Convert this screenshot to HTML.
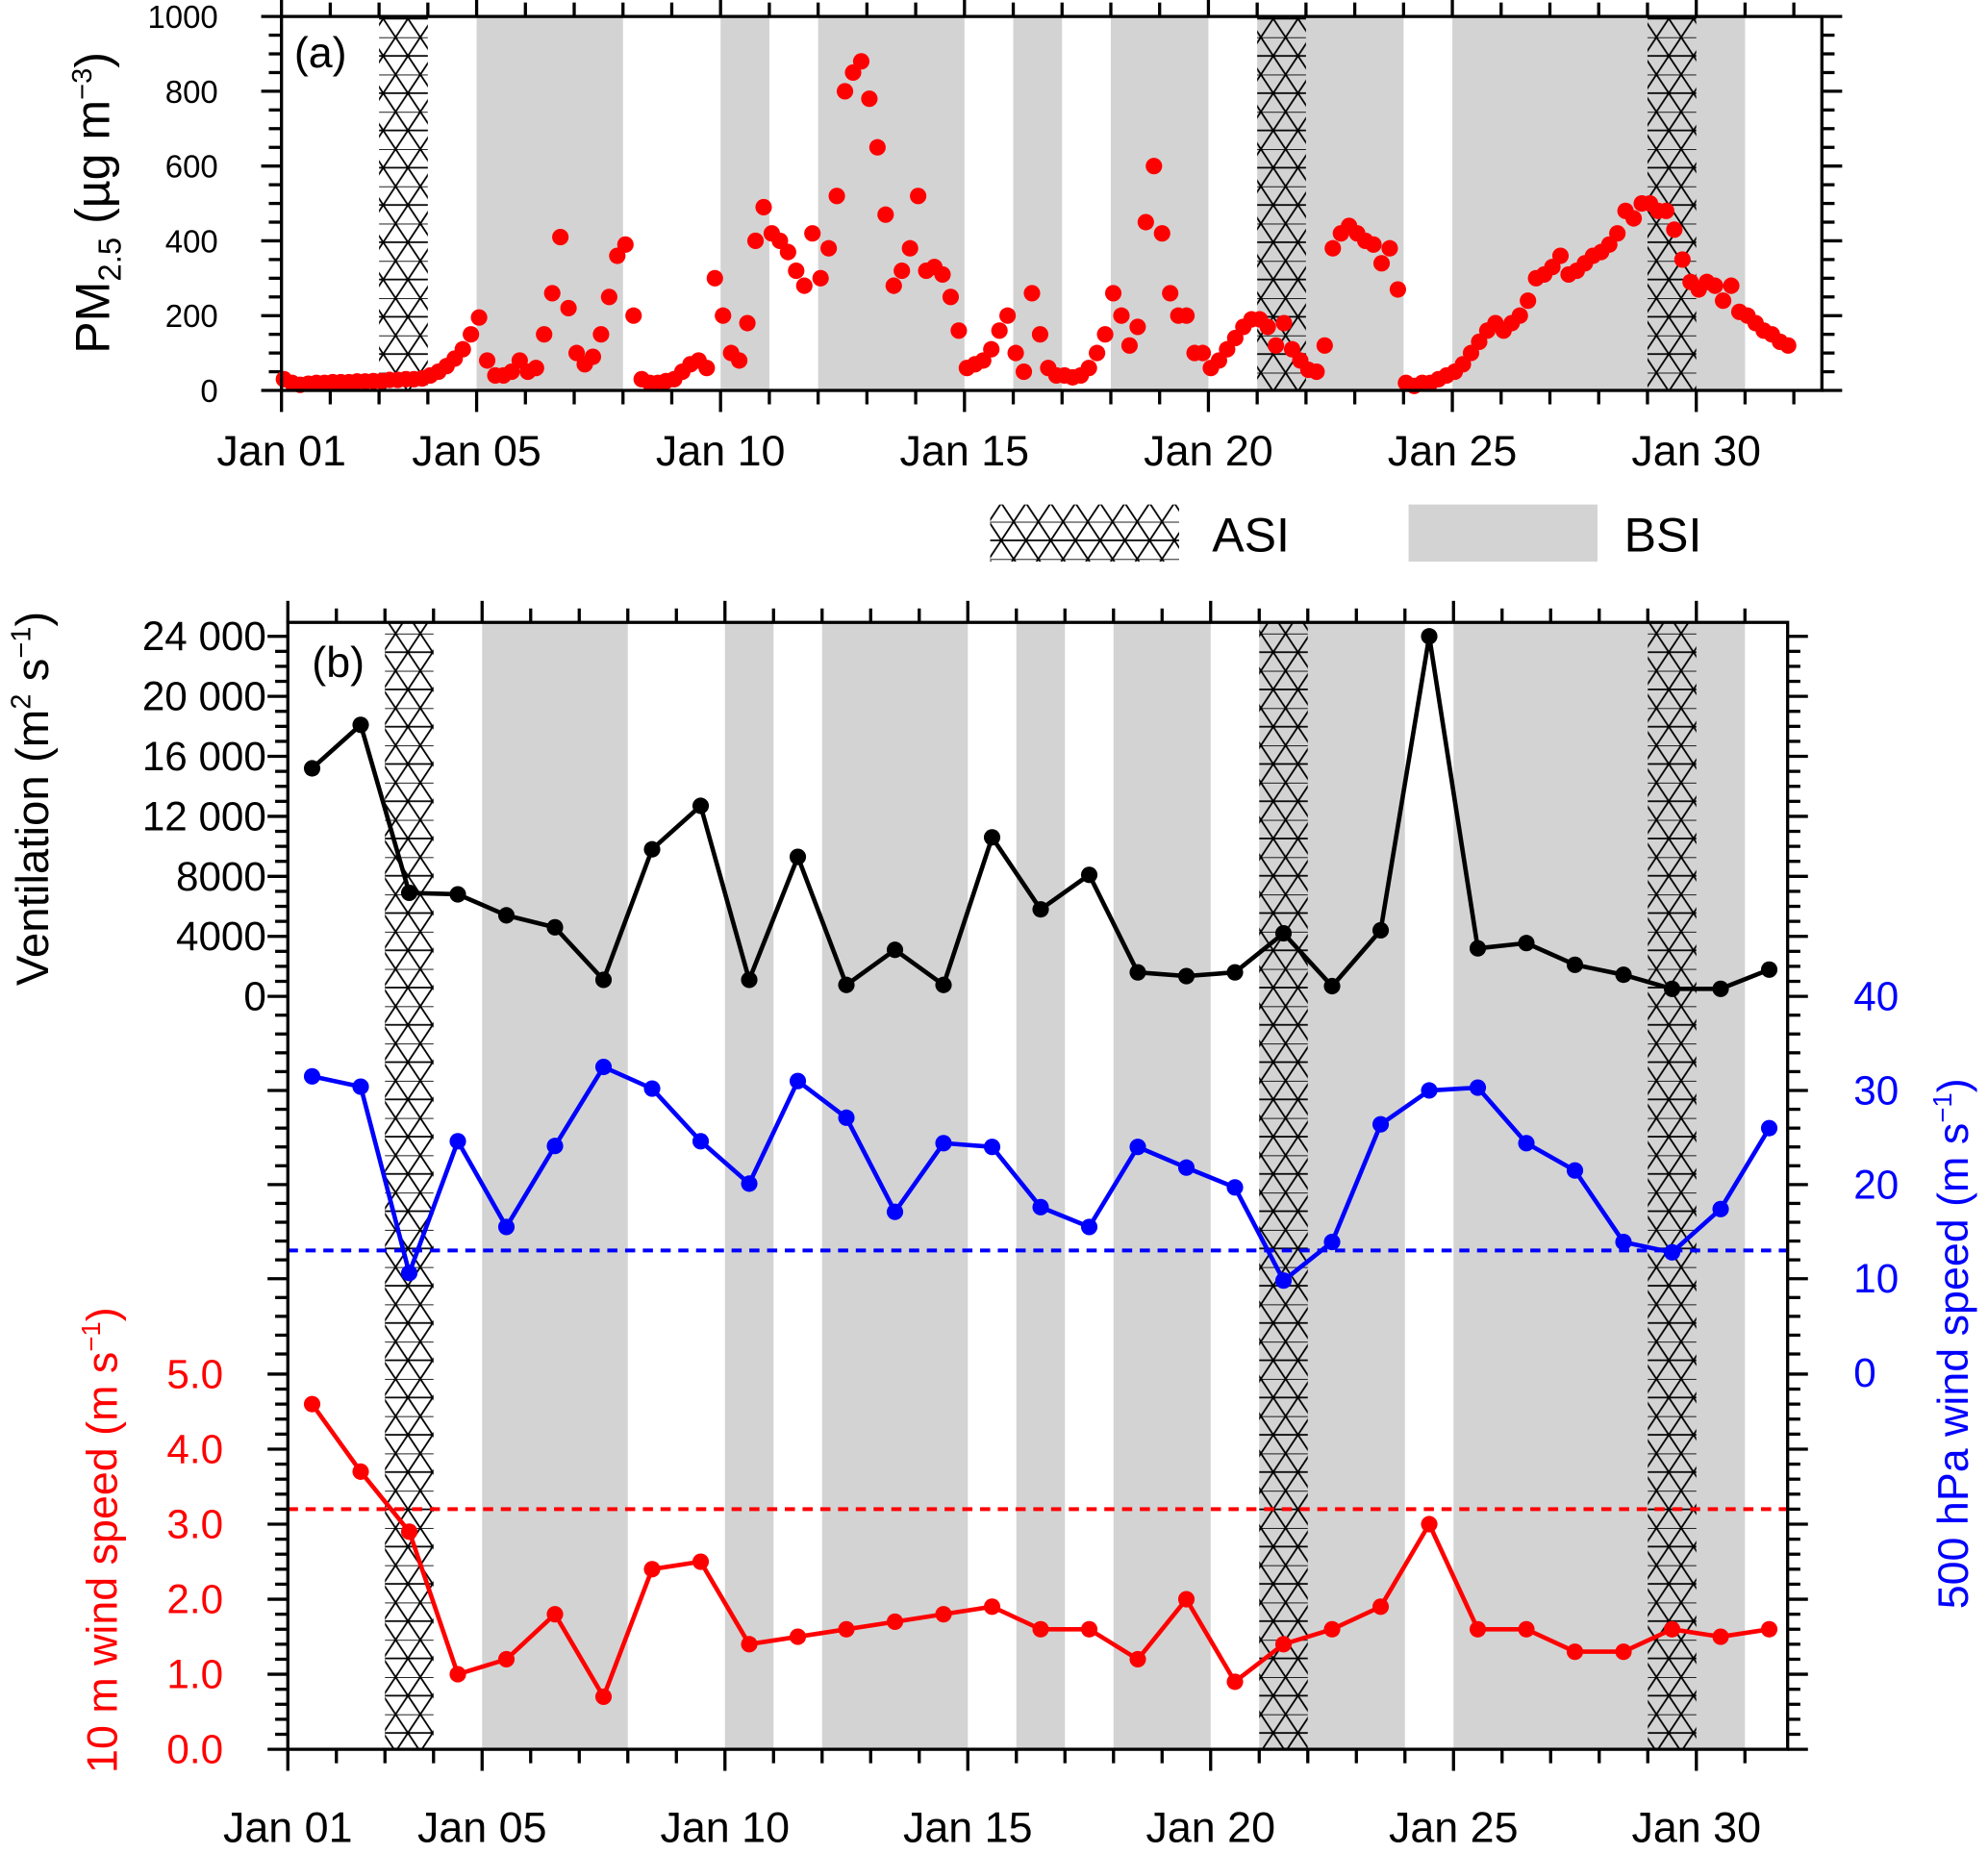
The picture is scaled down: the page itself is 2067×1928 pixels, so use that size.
<!DOCTYPE html>
<html><head><meta charset="utf-8"><style>
html,body{margin:0;padding:0;background:#fff;}
svg{display:block;font-family:"Liberation Sans",sans-serif;}
</style></head><body>
<svg id="chart" xmlns="http://www.w3.org/2000/svg" width="2067" height="1928" viewBox="0 0 1568 1462.6">
<defs>
<pattern id="hatch" patternUnits="userSpaceOnUse" width="19.5" height="29.4" x="0" y="0">
<path d="M0,0 L19.5,29.4 M19.5,0 L0,29.4 M0,0 H19.5 M0,14.7 H19.5" stroke="#000" stroke-width="1.4" fill="none"/>
</pattern>
</defs>
<g id="root"></g>
</svg>
<script>
// ---------- data ----------
const pmValues = [
30,20,15,18,20,20, 22,22,22,24,24,25, 25,28,28,30,30,32, 40,50,65,85,110,150,
195,80,40,40,50,80, 50,60,150,260,410,220, 100,70,90,150,250,360, 390,200,30,20,20,25,
30,50,70,80,60,300, 200,100,80,180,400,490, 420,400,370,320,280,420, 300,380,520,800,850,880,
780,650,470,280,320,380, 520,320,330,310,250,160, 60,70,80,110,160,200, 100,50,260,150,60,40,
40,35,40,60,100,150, 260,200,120,170,450,600, 420,260,200,200,100,100, 60,80,110,140,170,190,
190,170,120,180,110,80, 55,50,120,380,420,440, 420,400,390,340,380,270, 20,12,20,20,30,40,
50,70,100,130,160,180, 160,180,200,240,300,310, 330,360,310,320,340,360, 370,390,420,480,460,500,
500,480,480,430,350,290, 270,290,280,240,280,210, 200,180,160,150,130,120
];
const ventValues = [15200,18100,6900,6800,5400,4600,1100,9800,12700,1100,9300,760,3100,760,10600,5800,8100,1600,1350,1600,4200,680,4400,24000,3200,3550,2100,1440,500,500,1780];
const wind500Values = [31.5,30.4,10.6,24.6,15.5,24.1,32.5,30.2,24.6,20.1,31,27.1,17.1,24.4,24,17.6,15.5,24,21.8,19.7,9.8,13.9,26.4,30,30.3,24.4,21.5,13.9,12.8,17.4,26];
const wind10Values = [4.6,3.7,2.9,1.0,1.2,1.8,0.7,2.4,2.5,1.4,1.5,1.6,1.7,1.8,1.9,1.6,1.6,1.2,2.0,0.9,1.4,1.6,1.9,3.0,1.6,1.6,1.3,1.3,1.6,1.5,1.6];
const wind500Threshold = 13.0;
const wind10Threshold = 3.2;
const asiPeriods = [[2,3],[20,21],[28,29]];
const bsiPeriods = [[4,7],[9,10],[11,14],[15,16],[17,19],[20,23],[24,30]];
const dateLabels = ["Jan 01","Jan 05","Jan 10","Jan 15","Jan 20","Jan 25","Jan 30"];
const dateLabelDays = [0,4,9,14,19,24,29];
const pmTicks = [0,200,400,600,800,1000];
const ventTicks = [0,4000,8000,12000,16000,20000,24000];
const ventTickLabels = ["0","4000","8000","12 000","16 000","20 000","24 000"];
const w500Ticks = [0,10,20,30,40];
const w10Ticks = [0,1,2,3,4,5];
const w10TickLabels = ["0.0","1.0","2.0","3.0","4.0","5.0"];
const pmPerDay = 6;

// ---------- helpers ----------
const NS="http://www.w3.org/2000/svg";
const root=document.getElementById('root');
function mk(tag,attrs,parent){const e=document.createElementNS(NS,tag);for(const k in attrs)e.setAttribute(k,attrs[k]);(parent||root).appendChild(e);return e;}
const A={x0:222,dw:38.48,xr:1437,top:13,bot:308};
const B={x0:227,dw:38.31,xr:1410,top:491,bot:1380};
const axA=d=>A.x0+d*A.dw, ayPM=v=>A.bot-v*0.295;
const bx=d=>B.x0+d*B.dw;
const yVent=v=>786-v*(284/24000);
const y500=v=>1083-v*7.425;
const y10=v=>1380-v*59.2;

// ---------- panel shading ----------
function bands(P,xf,gname){
  const g=mk('g',{});
  
  
  bsiPeriods.forEach(p=>{const r=mk('rect',{x:xf(p[0]),y:P.top,width:xf(p[1])-xf(p[0]),height:P.bot-P.top,fill:'#d3d3d3'},g);
    });
  asiPeriods.forEach(p=>{const r=mk('rect',{x:xf(p[0]),y:P.top,width:xf(p[1])-xf(p[0]),height:P.bot-P.top,fill:'url(#hatch)'},g);
    });
}
bands(A,axA,'panel-a');
bands(B,bx,'panel-b');

// ---------- x axes ----------
function xAxis(P,xf,labelY,name){
  const g=mk('g',{stroke:'#000','stroke-width':2.5});
  
  
  for(let d=0;d<=31;d++){const x=xf(d);if(x>P.xr+1)break;
    const major=dateLabelDays.includes(d);const L=major?17:11;
    mk('line',{x1:x,y1:P.bot,x2:x,y2:P.bot+L},g);
    mk('line',{x1:x,y1:P.top,x2:x,y2:P.top-L},g);}
  dateLabels.forEach((t,i)=>{const e=mk('text',{x:xf(dateLabelDays[i]),y:labelY,'font-size':34,'text-anchor':'middle',fill:'#000'});e.textContent=t;
    });
}
xAxis(A,axA,367,'panel-a-x-axis');
xAxis(B,bx,1453,'panel-b-x-axis');

// ---------- panel a y axis ----------
(function(){
  const g=mk('g',{stroke:'#000','stroke-width':2.5});
  
  for(let v=0;v<=1000;v+=50){const y=ayPM(v);const L=v%200===0?16:10;
    mk('line',{x1:A.x0,y1:y,x2:A.x0-L,y2:y},g);mk('line',{x1:A.xr,y1:y,x2:A.xr+L,y2:y},g);}
  pmTicks.forEach(v=>{const e=mk('text',{x:172,y:ayPM(v)+9,'font-size':25,'text-anchor':'end',fill:'#000'});e.textContent=v;
    });
})();

// ---------- panel b y axes ----------
(function(){
  const g=mk('g',{stroke:'#000','stroke-width':2.5});
  
  function tk(y,L){mk('line',{x1:B.x0,y1:y,x2:B.x0-L,y2:y},g);mk('line',{x1:B.xr,y1:y,x2:B.xr+L,y2:y},g);}
  for(let v=0;v<=24000;v+=1000){tk(yVent(v),v%4000===0?16:10);}
  for(let v=2;v<40;v+=2){tk(y500(v),v%10===0?16:10);}
  for(let v=0;v<=34;v+=1){const y=y10(v/5);if(y<y500(0)+1)break;tk(y,v%5===0?16:10);}
  ventTicks.forEach((v,i)=>{const e=mk('text',{x:210,y:yVent(v)+11,'font-size':32,'text-anchor':'end',fill:'#000'});e.textContent=ventTickLabels[i];
    });
  w500Ticks.forEach(v=>{const e=mk('text',{x:1462,y:y500(v)+11,'font-size':32,'text-anchor':'start',fill:'#0000ff'});e.textContent=v;
    });
  w10Ticks.forEach((v,i)=>{const e=mk('text',{x:176,y:y10(v)+11,'font-size':32,'text-anchor':'end',fill:'#ff0000'});e.textContent=w10TickLabels[i];
    });
})();

// ---------- PM2.5 scatter ----------
(function(){
  const g=mk('g',{fill:'#ff0000'});
  
  pmValues.forEach((v,i)=>{const x=axA(i/pmPerDay+0.05);if(x>A.xr-3)return;
    const c=mk('circle',{cx:x,cy:ayPM(v),r:6.5},g);
    });
})();

// ---------- threshold lines ----------
(function(){
  const l1=mk('line',{x1:B.x0,x2:B.xr,y1:y500(wind500Threshold),y2:y500(wind500Threshold),stroke:'#0000ff','stroke-width':3,'stroke-dasharray':'8 6'});
  
  const l2=mk('line',{x1:B.x0,x2:B.xr,y1:y10(wind10Threshold),y2:y10(wind10Threshold),stroke:'#ff0000','stroke-width':3,'stroke-dasharray':'8 6'});
  
})();

// ---------- line series ----------
function series(vals,yf,color,name){
  const g=mk('g',{});
  
  const pts=vals.map((v,i)=>bx(i+0.5).toFixed(1)+','+yf(v).toFixed(1)).join(' ');
  const pl=mk('polyline',{points:pts,fill:'none',stroke:color,'stroke-width':3.5,'stroke-linejoin':'round'},g);
  
  vals.forEach((v,i)=>{const c=mk('circle',{cx:bx(i+0.5),cy:yf(v),r:6.5,fill:color},g);
    });
}
series(ventValues,yVent,'#000000','ventilation-series');
series(wind500Values,y500,'#0000ff','wind500-series');
series(wind10Values,y10,'#ff0000','wind10-series');

// ---------- frames ----------
[A,B].forEach((P,i)=>{const r=mk('rect',{x:P.x0,y:P.top,width:P.xr-P.x0,height:P.bot-P.top,fill:'none',stroke:'#000','stroke-width':2.5});
  });

// ---------- panel labels ----------
(function(){
  const a=mk('text',{x:232,y:53,'font-size':34,fill:'#000'});a.textContent='(a)';
  
  const b=mk('text',{x:246,y:534,'font-size':34,fill:'#000'});b.textContent='(b)';
  
})();

// ---------- legend ----------
(function(){
  const g=mk('g',{});
  
  const r1=mk('rect',{x:781,y:398,width:149,height:45,fill:'url(#hatch)'},g);
  
  const t1=mk('text',{x:956,y:435,'font-size':38,fill:'#000'},g);t1.textContent='ASI';
  
  const r2=mk('rect',{x:1111,y:398,width:149,height:45,fill:'#d3d3d3'},g);
  
  const t2=mk('text',{x:1281,y:435,'font-size':38,fill:'#000'},g);t2.textContent='BSI';
  
})();
</script>
<svg style="position:absolute;left:0;top:0" width="2067" height="1928" viewBox="0 0 1568 1462.6">
<text transform="translate(86,160) rotate(-90)" text-anchor="middle" font-size="38" fill="#000" font-family="Liberation Sans, sans-serif">PM<tspan font-size="25" dy="9">2.5</tspan><tspan dy="-9"> (µg m</tspan><tspan font-size="22" dy="-14">−3</tspan><tspan dy="14">)</tspan></text>
<text transform="translate(38,630) rotate(-90)" text-anchor="middle" font-size="36" fill="#000" font-family="Liberation Sans, sans-serif">Ventilation (m<tspan font-size="22" dy="-14">2</tspan><tspan dy="14"> s</tspan><tspan font-size="22" dy="-14">−1</tspan><tspan dy="14">)</tspan></text>
<text transform="translate(92,1215) rotate(-90)" text-anchor="middle" font-size="34" fill="#ff0000" font-family="Liberation Sans, sans-serif">10 m wind speed (m s<tspan font-size="21" dy="-13">−1</tspan><tspan dy="13">)</tspan></text>
<text transform="translate(1552,1060) rotate(-90)" text-anchor="middle" font-size="34" fill="#0000ff" font-family="Liberation Sans, sans-serif">500 hPa wind speed (m s<tspan font-size="21" dy="-13">−1</tspan><tspan dy="13">)</tspan></text>
</svg>
</body></html>
